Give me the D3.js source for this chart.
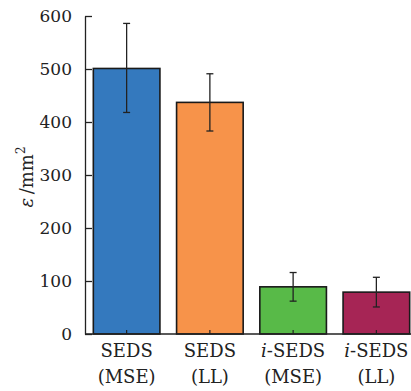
<!DOCTYPE html>
<html><head><meta charset="utf-8">
<script src="https://cdn.jsdelivr.net/npm/d3@7"></script>
<style>
body{margin:0;background:#fff;}
text{font-family:"DejaVu Serif",serif;fill:#222;}
</style></head><body>
<svg id="c" width="411" height="391"></svg>
<script>
const categories = ["SEDS|(MSE)", "SEDS|(LL)", "i-SEDS|(MSE)", "i-SEDS|(LL)"];
const values = [501, 437, 89, 79];
const errLow = [418, 383, 62, 51];
const errHigh = [586, 491, 116, 107];
const colors = ["#3479be", "#f7934a", "#58ba48", "#a62555"];
const yTicks = [0, 100, 200, 300, 400, 500, 600];

const FONT = '"DejaVu Serif",serif';
const svg = d3.select("#c");
const x = d3.scaleBand().domain(categories).range([85, 418]).paddingInner(0.2).paddingOuter(0.1);
const y = d3.scaleLinear().domain([0, 600]).range([334, 16]);

// bars
svg.selectAll("rect.bar").data(values).join("rect")
  .attr("x", (d,i)=>x(categories[i]))
  .attr("y", d=>y(d))
  .attr("width", x.bandwidth())
  .attr("height", d=>y(0)-y(d))
  .attr("fill", (d,i)=>colors[i])
  .attr("stroke", "#1a1a1a").attr("stroke-width", 1.6);

// error bars
const eg = svg.append("g").attr("stroke", "#222").attr("stroke-width", 1.3);
categories.forEach((c,i)=>{
  const cx = x(c) + x.bandwidth()/2;
  eg.append("line").attr("x1",cx).attr("x2",cx).attr("y1",y(errLow[i])).attr("y2",y(errHigh[i]));
  eg.append("line").attr("x1",cx-3.5).attr("x2",cx+3.5).attr("y1",y(errLow[i])).attr("y2",y(errLow[i]));
  eg.append("line").attr("x1",cx-3.5).attr("x2",cx+3.5).attr("y1",y(errHigh[i])).attr("y2",y(errHigh[i]));
});

// y axis
const ya = svg.append("g").attr("transform","translate(85,0)")
  .call(d3.axisLeft(y).tickValues(yTicks).tickSizeInner(-7).tickSizeOuter(0).tickPadding(13));
ya.select(".domain").attr("stroke","#222").attr("stroke-width",1.3);
ya.selectAll(".tick line").attr("stroke","#222").attr("stroke-width",1.3);
ya.selectAll(".tick text").attr("font-size",17).attr("fill","#222")
  .style("font-family",FONT);

// x axis
const xa = svg.append("g").attr("transform","translate(0,334)")
  .call(d3.axisBottom(x).tickSizeInner(-4).tickSizeOuter(0).tickFormat(""));
xa.select(".domain").attr("d","M85,0H411").attr("stroke","#222").attr("stroke-width",1.3);
xa.selectAll(".tick line").attr("stroke","#222").attr("stroke-width",1.2);
xa.selectAll(".tick").each(function(d){
  const parts = d.split("|");
  const t = d3.select(this).append("text").attr("text-anchor","middle")
    .attr("font-size",18).attr("fill","#222").style("font-family",FONT);
  const l1 = t.append("tspan").attr("x",0).attr("y",23);
  if (parts[0].startsWith("i-")) {
    l1.append("tspan").attr("font-style","italic").text("i");
    l1.append("tspan").text(parts[0].slice(1));
  } else l1.text(parts[0]);
  t.append("tspan").attr("x",0).attr("y",49).text(parts[1]);
});

// y label
const yl = svg.append("text").attr("transform","translate(33,177) rotate(-90)")
  .attr("text-anchor","middle").attr("font-size",18).attr("fill","#222").style("font-family",FONT);
yl.append("tspan").attr("font-style","italic").text("ε");
yl.append("tspan").text("\u2009/mm");
yl.append("tspan").attr("font-size",12).attr("dy",-8).text("2");
</script></body></html>
